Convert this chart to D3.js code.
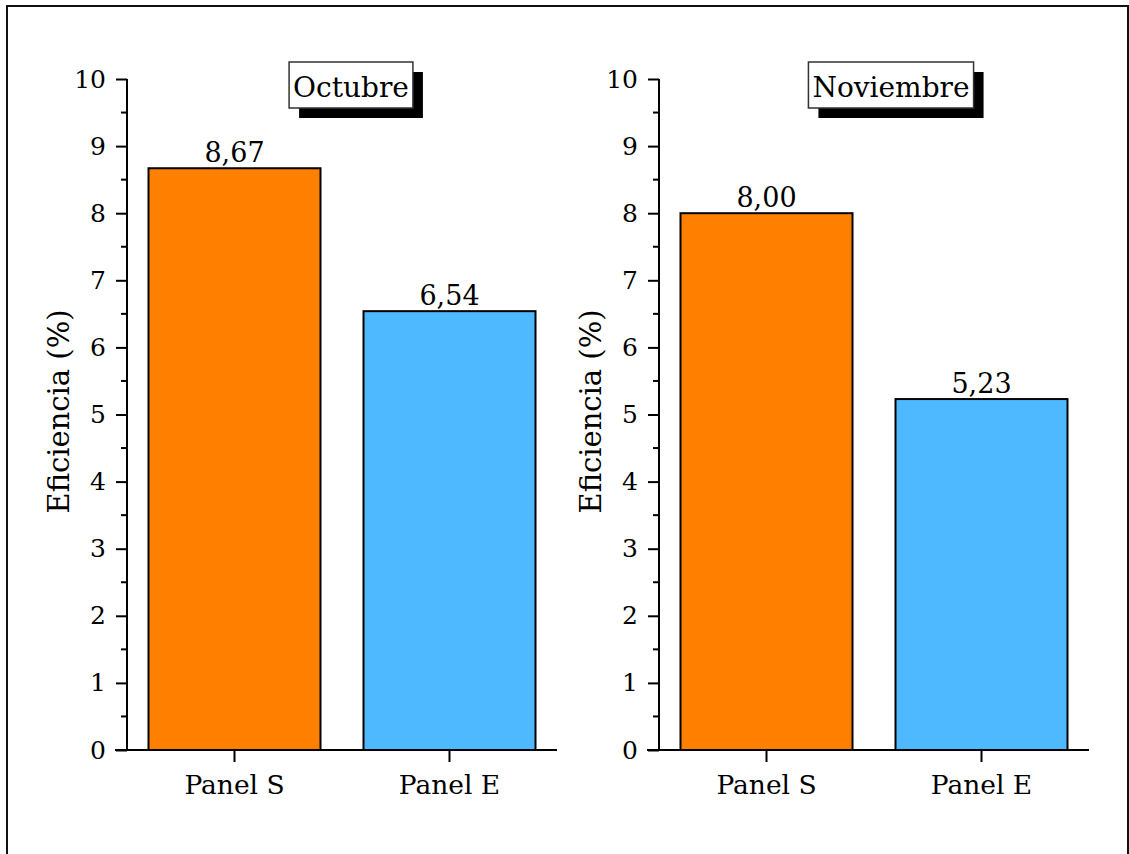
<!DOCTYPE html>
<html>
<head>
<meta charset="utf-8">
<script src="https://cdn.jsdelivr.net/npm/d3@7"></script>
<style>
  html, body { margin: 0; padding: 0; background: #fff; }
  svg { display: block; }
  text { font-family: "DejaVu Serif", "Liberation Serif", serif; fill: #000; }
</style>
</head>
<body>
<svg id="chart" width="1129" height="854"></svg>
<script>
// Efficiency per panel type, one small array per month
const categories = ["Panel S", "Panel E"];
const months = ["Octubre", "Noviembre"];
const octubreValues = [8.67, 6.54];
const noviembreValues = [8.00, 5.23];
const yTickValues = [0, 1, 2, 3, 4, 5, 6, 7, 8, 9, 10];
const barColors = ["#ff8000", "#4fb9ff"];
const yLabel = "Eficiencia (%)";

const svg = d3.select("#chart");

// outer frame
svg.append("rect")
  .attr("x", 7).attr("y", 6)
  .attr("width", 1121).attr("height", 860)
  .attr("fill", "none").attr("stroke", "#111").attr("stroke-width", 2);

const plotTop = 79, plotBottom = 750, plotWidth = 430;
const panels = [
  { month: months[0], values: octubreValues, left: 127, titleCenter: 351 },
  { month: months[1], values: noviembreValues, left: 659, titleCenter: 891 }
];

const y = d3.scaleLinear().domain([0, 10]).range([plotBottom, plotTop]);
const fmt = v => d3.format(".2f")(v).replace(".", ",");

panels.forEach(p => {
  const g = svg.append("g");
  const x = d3.scaleBand()
    .domain(categories)
    .range([p.left, p.left + plotWidth])
    .paddingInner(0.2)
    .paddingOuter(0.1);

  // bars
  g.selectAll("rect.bar")
    .data(categories.map((c, i) => ({ c, v: p.values[i], i })))
    .join("rect")
    .attr("class", "bar")
    .attr("x", d => x(d.c))
    .attr("width", x.bandwidth())
    .attr("y", d => y(d.v))
    .attr("height", d => y(0) - y(d.v))
    .attr("fill", d => barColors[d.i])
    .attr("stroke", "#000")
    .attr("stroke-width", 2);

  // value labels
  g.selectAll("text.val")
    .data(categories.map((c, i) => ({ c, v: p.values[i] })))
    .join("text")
    .attr("class", "val")
    .attr("x", d => x(d.c) + x.bandwidth() / 2)
    .attr("y", d => y(d.v) - 6)
    .attr("text-anchor", "middle")
    .attr("font-size", 27)
    .text(d => fmt(d.v));

  // y axis with minor ticks
  const yAxis = d3.axisLeft(y).tickValues(yTickValues).tickSize(11).tickPadding(10)
    .tickFormat(d3.format("d"));
  const ya = g.append("g").attr("transform", `translate(${p.left},0)`).call(yAxis);
  ya.select(".domain").attr("stroke", "#000").attr("stroke-width", 2).attr("d", `M0,${plotBottom}V${plotTop}`);
  ya.selectAll(".tick line").attr("stroke", "#000").attr("stroke-width", 2);
  ya.selectAll(".tick text").attr("font-size", 25).attr("font-family", "DejaVu Serif");
  const minor = d3.range(0.5, 10, 1);
  ya.selectAll("line.minor").data(minor).join("line")
    .attr("class", "minor")
    .attr("x1", -6).attr("x2", 0)
    .attr("y1", d => y(d)).attr("y2", d => y(d))
    .attr("stroke", "#000").attr("stroke-width", 2);

  // x axis
  const xAxis = d3.axisBottom(x).tickSize(12).tickPadding(13);
  const xa = g.append("g").attr("transform", `translate(0,${plotBottom})`).call(xAxis);
  xa.select(".domain").attr("stroke", "#000").attr("stroke-width", 2)
    .attr("d", `M${p.left - 12},0H${p.left + plotWidth}`);
  xa.selectAll(".tick line").attr("stroke", "#000").attr("stroke-width", 2);
  xa.selectAll(".tick text").attr("font-size", 26.5).attr("font-family", "DejaVu Serif");

  // y label
  g.append("text")
    .attr("transform", `translate(${p.left - 58},${(plotTop + plotBottom) / 2 - 3}) rotate(-90)`)
    .attr("text-anchor", "middle")
    .attr("font-size", 29)
    .text(yLabel);

  // month title in a box with drop shadow
  const tg = g.append("g");
  const shadow = tg.append("rect").attr("fill", "#000");
  const box = tg.append("rect").attr("fill", "#fff").attr("stroke", "#333").attr("stroke-width", 1.5);
  const title = tg.append("text")
    .attr("x", p.titleCenter)
    .attr("y", 97)
    .attr("text-anchor", "middle")
    .attr("font-size", 28)
    .text(p.month);
  const bb = title.node().getBBox();
  const bx = bb.x - 4, bw = bb.width + 8, by = 62, bh = 46;
  shadow.attr("x", bx + 10).attr("y", by + 10).attr("width", bw).attr("height", bh);
  box.attr("x", bx).attr("y", by).attr("width", bw).attr("height", bh);
});
</script>
</body>
</html>
